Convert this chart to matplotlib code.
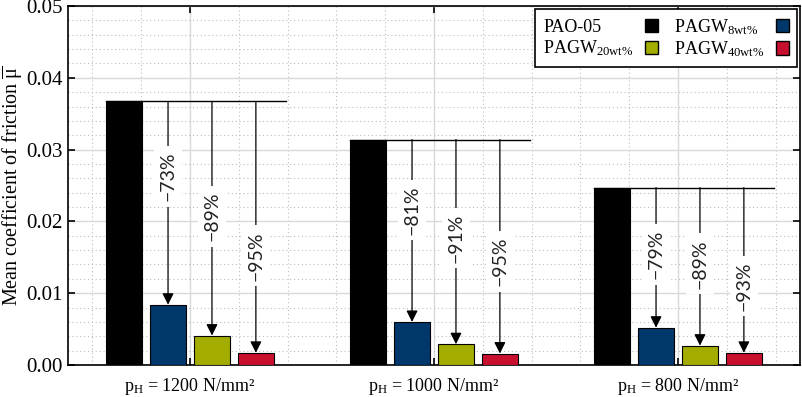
import matplotlib
matplotlib.use("Agg")
import matplotlib.pyplot as plt
import numpy as np
from matplotlib.patches import Patch
from matplotlib.ticker import MultipleLocator

plt.rcParams['font.family'] = ['Liberation Serif', 'DejaVu Serif']
plt.rcParams['mathtext.fontset'] = 'custom'
plt.rcParams['mathtext.rm'] = 'Liberation Serif'
plt.rcParams['mathtext.it'] = 'Liberation Serif:italic'
plt.rcParams['mathtext.bf'] = 'Liberation Serif:bold'

# ---- data ----
groups = [r'p$_\mathrm{H}$ = 1200 N/mm²', r'p$_\mathrm{H}$ = 1000 N/mm²', r'p$_\mathrm{H}$ = 800 N/mm²']
series = ['PAO-05', r'PAGW$_\mathrm{8wt\%}$', r'PAGW$_\mathrm{20wt\%}$', r'PAGW$_\mathrm{40wt\%}$']
pao05 = [0.0367, 0.0314, 0.0247]
pagw8 = [0.0084, 0.0060, 0.0052]
pagw20 = [0.0041, 0.0029, 0.0027]
pagw40 = [0.0017, 0.0016, 0.0017]
reduction_labels = [['−73%', '−89%', '−95%'],
                    ['−81%', '−91%', '−95%'],
                    ['−79%', '−89%', '−93%']]
yticks = [0.00, 0.01, 0.02, 0.03, 0.04, 0.05]

# label placement (layout, y in data units)
label_pos = [[0.0263, 0.0207, 0.0152],
             [0.0216, 0.0177, 0.0144],
             [0.0154, 0.0141, 0.0110]]

colors = ['#000000', '#00386b', '#a3ad00', '#c8102e']
values = [pao05, pagw8, pagw20, pagw40]

fig = plt.figure(figsize=(8.03, 3.97), dpi=100)
ax = fig.add_axes([68/803, 32/397, 732/803, 359/397])

x = np.arange(len(groups))
width = 0.147
offsets = [-0.27, -0.09, 0.09, 0.27]

for k in range(4):
    ax.bar(x + offsets[k], values[k], width=width, color=colors[k],
           edgecolor='black', linewidth=0.8, zorder=3)

for g in range(len(groups)):
    ref = pao05[g]
    x0 = g + offsets[0] - width / 2
    x1 = g + offsets[3] + width / 2 + 0.05
    ax.plot([x0, x1], [ref, ref], color='black', lw=1.0, zorder=4)
    for k in range(1, 4):
        xc = g + offsets[k]
        ax.annotate('', xy=(xc, values[k][g]), xytext=(xc, ref),
                    arrowprops=dict(arrowstyle='-|>', color='black', lw=0.9,
                                    mutation_scale=17, shrinkA=0, shrinkB=0),
                    zorder=4)
        ax.text(xc, label_pos[g][k - 1], reduction_labels[g][k - 1],
                rotation=90, ha='center', va='center', fontsize=14,
                family=['Lato', 'DejaVu Sans'], color='#222222', zorder=5,
                bbox=dict(facecolor='white', edgecolor='none', pad=4))

ax.set_xlim(-0.5, 2.5)
ax.set_ylim(0, 0.05)
ax.set_xticks(x)
ax.set_xticklabels(groups, fontsize=13)
ax.set_yticks(yticks)
ax.set_yticklabels([f'{v:.2f}' for v in yticks], fontsize=15)
ax.xaxis.set_minor_locator(MultipleLocator(0.2))
ax.yaxis.set_minor_locator(MultipleLocator(0.002))
ax.tick_params(which='major', direction='in', length=5, width=1.2,
               top=True, right=True)
ax.tick_params(which='minor', length=0)
ax.tick_params(axis='x', pad=8)
ax.tick_params(axis='y', pad=4)
ax.grid(which='major', color='#d9d9d9', lw=1.0, linestyle='-', zorder=0)
ax.grid(which='minor', color='#bdbdbd', lw=0.8, linestyle=(0, (1, 2.5)), zorder=0)
ax.set_axisbelow(True)
for s in ax.spines.values():
    s.set_linewidth(1.2)
    s.set_color('black')

ax.set_ylabel(r'Mean coefficient of friction $\overline{\mathrm{μ}}$', fontsize=14.5)
ax.yaxis.set_label_coords(-0.059, 0.5)

handles = [Patch(facecolor=colors[0], edgecolor='black', label=series[0]),
           Patch(facecolor=colors[2], edgecolor='black', label=series[2]),
           Patch(facecolor=colors[1], edgecolor='black', label=series[1]),
           Patch(facecolor=colors[3], edgecolor='black', label=series[3])]
leg = ax.legend(handles=handles, ncol=2, loc='upper right', markerfirst=False,
                fontsize=13, handlelength=0.75, handleheight=0.75, fancybox=False,
                edgecolor='black', framealpha=1, borderaxespad=0.15,
                columnspacing=0.9, handletextpad=0.6, labelspacing=0.15,
                borderpad=0.45)
leg.get_frame().set_linewidth(1.2)
leg.set_zorder(10)

# left-align legend texts while keeping the handles aligned at the right
fig.canvas.draw()
renderer = fig.canvas.get_renderer()
px2pt = 72.0 / fig.dpi
for col in leg._legend_handle_box.get_children():
    items = col.get_children()
    widths = [it.get_children()[0].get_window_extent(renderer).width for it in items]
    wmax = max(widths)
    for it, w in zip(items, widths):
        it.sep = it.sep + (wmax - w) * px2pt

fig.savefig('out.png', dpi=100)
